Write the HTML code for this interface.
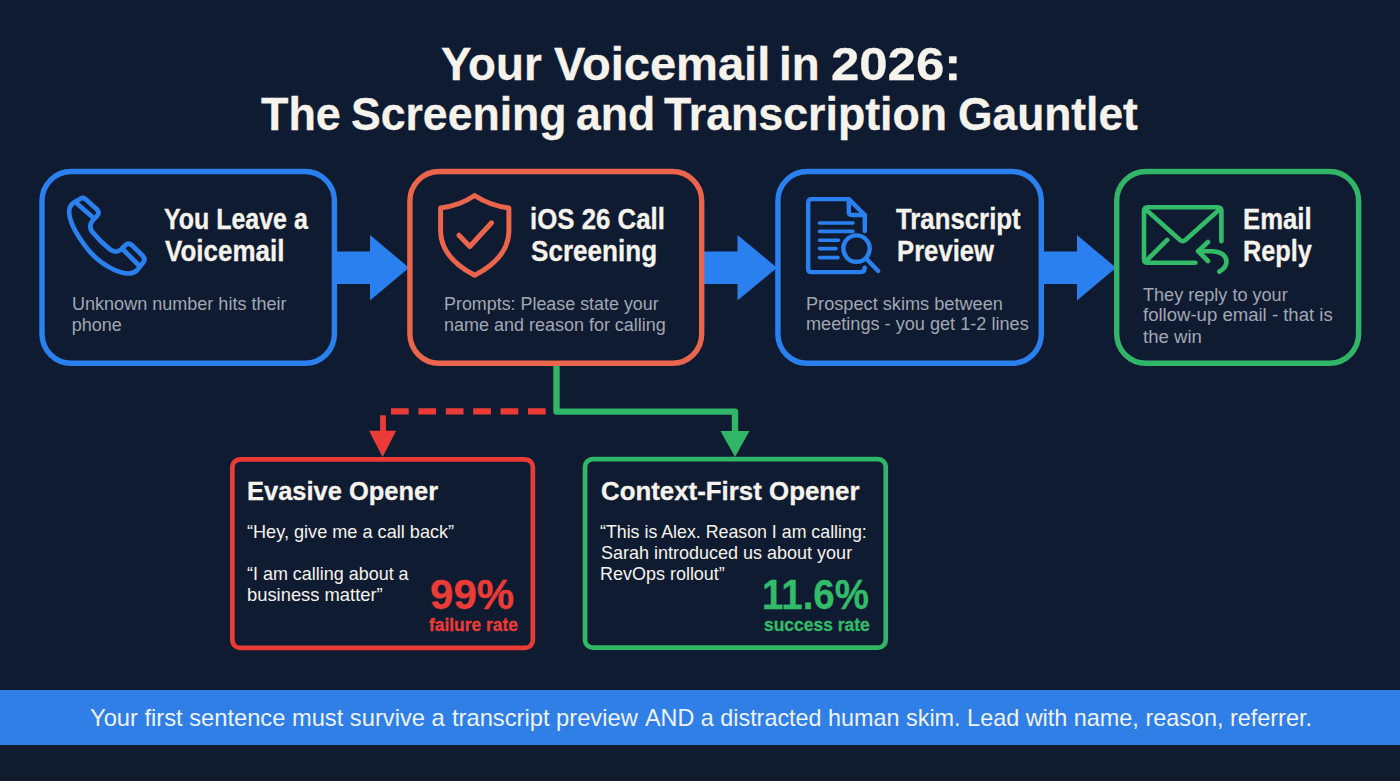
<!DOCTYPE html>
<html><head><meta charset="utf-8"><title>Your Voicemail in 2026</title>
<style>
html,body{margin:0;padding:0;}
body{width:1400px;height:781px;overflow:hidden;background:#0f1b31;position:relative;font-family:"Liberation Sans",sans-serif;}
svg{position:absolute;left:0;top:0;}
.t{position:absolute;white-space:nowrap;line-height:1;transform-origin:0 50%;font-family:"Liberation Sans",sans-serif;}
</style></head>
<body>
<svg width="1400" height="781" viewBox="0 0 1400 781">
<path d="M335,251.5 L370,251.5 L370,235 L409,267.7 L370,300.5 L370,284 L335,284 Z" fill="#2a80ef"/>
<path d="M702,251.5 L737.5,251.5 L737.5,235 L777,267.7 L737.5,300.5 L737.5,284 L702,284 Z" fill="#2a80ef"/>
<path d="M1041,251.5 L1077,251.5 L1077,235 L1116,267.7 L1077,300.5 L1077,284 L1041,284 Z" fill="#2a80ef"/>
<path d="M556.5,364 L556.5,411.6 L735,411.6 L735,433" fill="none" stroke="#31b567" stroke-width="6.4" stroke-linejoin="round"/>
<path d="M720.5,431 L749.5,431 L735,457 Z" fill="#31b567"/>
<path d="M391,411.4 L547,411.4" fill="none" stroke="#ea3b37" stroke-width="6.4" stroke-dasharray="17.7 9.7"/>
<path d="M383,415.3 L383,433" fill="none" stroke="#ea3b37" stroke-width="5.8"/>
<path d="M369,430.7 L396.2,430.7 L382.6,457 Z" fill="#ea3b37"/>
<rect x="42.0" y="171.5" width="292.40000000000003" height="191.79999999999998" rx="29.3" ry="29.3" fill="none" stroke="#2a80ef" stroke-width="5.4"/>
<rect x="409.9" y="171.5" width="291.8" height="191.79999999999998" rx="29.3" ry="29.3" fill="none" stroke="#ea654b" stroke-width="5.4"/>
<rect x="777.9000000000001" y="171.5" width="263.4" height="191.79999999999998" rx="29.3" ry="29.3" fill="none" stroke="#2a80ef" stroke-width="5.4"/>
<rect x="1116.7" y="171.5" width="241.89999999999995" height="191.79999999999998" rx="29.3" ry="29.3" fill="none" stroke="#31b567" stroke-width="5.4"/>
<rect x="232.35" y="459.35" width="300.50000000000006" height="188.50000000000006" rx="7.65" ry="7.65" fill="none" stroke="#ea3b37" stroke-width="4.7"/>
<rect x="585.0500000000001" y="459.05" width="300.7" height="188.60000000000002" rx="7.65" ry="7.65" fill="none" stroke="#31b567" stroke-width="4.7"/>
<rect x="0" y="745" width="1400" height="36" fill="#111b2e"/>
<rect x="0" y="690" width="1400" height="55" fill="#2f7fe6"/>
<g fill="none" stroke="#2a80ef" stroke-width="4.7" stroke-linecap="round" stroke-linejoin="round">
<path d="M79.5,199.3 Q82.8,196.6 86,199.5 L96.8,209.2 Q100,212.3 97.3,215.6 L93.5,219.5 Q88,225.5 92,231.5 Q100,241.5 110,249.3 Q116,253.8 121,249.5 L125,245.5 Q128.5,242.2 132,245.3 L142.7,255.8 Q146,259.2 143,262.8 L138.5,268.5 Q134.5,273.8 128,273.5 C118,273 100,264.5 88,249.5 C78,237 70.5,224 69.2,213.5 C68.3,206 72.5,202.5 79.5,199.3 Z"/>
<path d="M77.5,204 L93,217.5 M122.5,249 L138,264.5"/>
</g>
<g fill="none" stroke="#ea654b" stroke-width="5.0" stroke-linecap="round" stroke-linejoin="round">
<path d="M474.7,195.5 Q460,205.5 440.6,208 L440.6,232 Q441.5,258 474.7,275.3 Q508,258 508.9,232 L508.9,208 Q489.5,205.5 474.7,195.5 Z"/>
<path d="M458.9,235.2 L469.8,246.5 L491.6,222.8"/>
</g>
<g fill="none" stroke="#2a80ef" stroke-width="4.4" stroke-linecap="round" stroke-linejoin="round">
<path d="M864.8,231 L864.8,215 L848.8,199.1 L811.5,199.1 Q808.2,199.1 808.2,202.4 L808.2,268.8 Q808.2,272.1 811.5,272.1 L860.5,272.1 Q864.8,272.1 864.8,267.6"/>
<path d="M848.8,199.1 L848.8,212 Q848.8,215 851.8,215 L864.8,215"/>
<path d="M819.5,223 L853,223 M819.5,231.4 L853,231.4 M819.5,240.3 L838.5,240.3 M819.5,248.6 L836,248.6 M819.5,257.6 L838,257.6" stroke-width="3.6"/>
<circle cx="856.5" cy="248.6" r="13.2"/>
<path d="M866.5,259 L878.2,271"/>
</g>
<g fill="none" stroke="#32bc6a" stroke-width="4.6" stroke-linecap="round" stroke-linejoin="round">
<path d="M1221.4,241.3 L1221.4,211 Q1221.4,207.3 1217.7,207.3 L1147.7,207.3 Q1144,207.3 1144,211 L1144,259 Q1144,262.7 1147.7,262.7 L1195.4,262.7"/>
<path d="M1146,209.6 L1180,240 Q1182.7,242.3 1185.4,240 L1219.3,209.6"/>
<path d="M1147.5,259.6 L1167.2,239.9"/>
<path d="M1208,242 L1198.2,251.2 L1208,261"/>
<path d="M1198.2,251.2 L1213,251.2 Q1226.5,252.5 1226.5,262 Q1226,268 1219.3,271.6"/>
</g>
</svg>
<span class="t" style="left:441.01px;top:41.06px;font-size:46px;font-weight:700;color:#f6f3ec;transform:scaleX(0.9930);-webkit-text-stroke:0.3px;">Your</span>
<span class="t" style="left:553.68px;top:41.06px;font-size:46px;font-weight:700;color:#f6f3ec;transform:scaleX(1.0232);-webkit-text-stroke:0.3px;">Voicemail</span>
<span class="t" style="left:779.33px;top:41.06px;font-size:46px;font-weight:700;color:#f6f3ec;transform:scaleX(0.9914);-webkit-text-stroke:0.3px;">in</span>
<span class="t" style="left:831.19px;top:41.06px;font-size:46px;font-weight:700;color:#f6f3ec;transform:scaleX(1.1063);-webkit-text-stroke:0.3px;">2026:</span>
<span class="t" style="left:261.02px;top:91.06px;font-size:46px;font-weight:700;color:#f6f3ec;transform:scaleX(0.9759);-webkit-text-stroke:0.3px;">The</span>
<span class="t" style="left:350.86px;top:91.06px;font-size:46px;font-weight:700;color:#f6f3ec;transform:scaleX(0.9691);-webkit-text-stroke:0.3px;">Screening</span>
<span class="t" style="left:575.73px;top:91.06px;font-size:46px;font-weight:700;color:#f6f3ec;transform:scaleX(0.9679);-webkit-text-stroke:0.3px;">and</span>
<span class="t" style="left:664.43px;top:91.06px;font-size:46px;font-weight:700;color:#f6f3ec;transform:scaleX(0.9715);-webkit-text-stroke:0.3px;">Transcription</span>
<span class="t" style="left:958.37px;top:91.06px;font-size:46px;font-weight:700;color:#f6f3ec;transform:scaleX(0.9641);-webkit-text-stroke:0.3px;">Gauntlet</span>
<span class="t" style="left:163.73px;top:205.09px;font-size:28.6px;font-weight:700;color:#f6f3ec;transform:scaleX(0.8726);-webkit-text-stroke:0.3px;">You Leave a</span>
<span class="t" style="left:164.60px;top:236.99px;font-size:28.6px;font-weight:700;color:#f6f3ec;transform:scaleX(0.9085);-webkit-text-stroke:0.3px;">Voicemail</span>
<span class="t" style="left:72.00px;top:294.76px;font-size:18px;font-weight:400;color:#a2a7b3;transform:scaleX(1.0019);">Unknown number hits their</span>
<span class="t" style="left:71.70px;top:315.56px;font-size:18px;font-weight:400;color:#a2a7b3;transform:scaleX(1.0000);">phone</span>
<span class="t" style="left:529.99px;top:205.09px;font-size:28.6px;font-weight:700;color:#f6f3ec;transform:scaleX(0.9034);-webkit-text-stroke:0.3px;">iOS 26 Call</span>
<span class="t" style="left:530.89px;top:236.99px;font-size:28.6px;font-weight:700;color:#f6f3ec;transform:scaleX(0.9119);-webkit-text-stroke:0.3px;">Screening</span>
<span class="t" style="left:443.61px;top:294.76px;font-size:18px;font-weight:400;color:#a2a7b3;transform:scaleX(0.9935);">Prompts: Please state your</span>
<span class="t" style="left:443.90px;top:315.56px;font-size:18px;font-weight:400;color:#a2a7b3;transform:scaleX(0.9986);">name and reason for calling</span>
<span class="t" style="left:896.30px;top:205.09px;font-size:28.6px;font-weight:700;color:#f6f3ec;transform:scaleX(0.9014);-webkit-text-stroke:0.3px;">Transcript</span>
<span class="t" style="left:896.50px;top:236.99px;font-size:28.6px;font-weight:700;color:#f6f3ec;transform:scaleX(0.8981);-webkit-text-stroke:0.3px;">Preview</span>
<span class="t" style="left:805.58px;top:294.76px;font-size:18px;font-weight:400;color:#a2a7b3;transform:scaleX(1.0094);">Prospect skims between</span>
<span class="t" style="left:805.99px;top:315.36px;font-size:18px;font-weight:400;color:#a2a7b3;transform:scaleX(1.0073);">meetings - you get 1-2 lines</span>
<span class="t" style="left:1242.50px;top:205.09px;font-size:28.6px;font-weight:700;color:#f6f3ec;transform:scaleX(0.9000);-webkit-text-stroke:0.3px;">Email</span>
<span class="t" style="left:1242.53px;top:236.99px;font-size:28.6px;font-weight:700;color:#f6f3ec;transform:scaleX(0.8842);-webkit-text-stroke:0.3px;">Reply</span>
<span class="t" style="left:1143.40px;top:285.56px;font-size:18px;font-weight:400;color:#a2a7b3;transform:scaleX(1.0042);">They reply to your</span>
<span class="t" style="left:1143.40px;top:306.46px;font-size:18px;font-weight:400;color:#a2a7b3;transform:scaleX(1.0306);">follow-up email - that is</span>
<span class="t" style="left:1143.40px;top:327.76px;font-size:18px;font-weight:400;color:#a2a7b3;transform:scaleX(1.0321);">the win</span>
<span class="t" style="left:247.04px;top:477.99px;font-size:26px;font-weight:700;color:#f6f3ec;transform:scaleX(0.9793);-webkit-text-stroke:0.3px;">Evasive Opener</span>
<span class="t" style="left:247.02px;top:522.64px;font-size:18.5px;font-weight:400;color:#f6f3ec;transform:scaleX(0.9795);">“Hey, give me a call back”</span>
<span class="t" style="left:247.43px;top:565.34px;font-size:18.5px;font-weight:400;color:#f6f3ec;transform:scaleX(0.9699);">“I am calling about a</span>
<span class="t" style="left:247.41px;top:585.64px;font-size:18.5px;font-weight:400;color:#f6f3ec;transform:scaleX(0.9926);">business matter”</span>
<span class="t" style="left:430.22px;top:574.32px;font-size:42.5px;font-weight:700;color:#ea3b37;transform:scaleX(0.9890);-webkit-text-stroke:0.3px;">99%</span>
<span class="t" style="left:429.40px;top:615.96px;font-size:18px;font-weight:700;color:#ea3b37;transform:scaleX(0.9659);-webkit-text-stroke:0.3px;">failure rate</span>
<span class="t" style="left:601.11px;top:477.99px;font-size:26px;font-weight:700;color:#f6f3ec;transform:scaleX(0.9942);-webkit-text-stroke:0.3px;">Context-First Opener</span>
<span class="t" style="left:600.34px;top:522.64px;font-size:18.5px;font-weight:400;color:#f6f3ec;transform:scaleX(0.9607);">“This is Alex. Reason I am calling:</span>
<span class="t" style="left:600.53px;top:543.74px;font-size:18.5px;font-weight:400;color:#f6f3ec;transform:scaleX(0.9728);">Sarah introduced us about your</span>
<span class="t" style="left:599.56px;top:565.04px;font-size:18.5px;font-weight:400;color:#f6f3ec;transform:scaleX(0.9714);">RevOps rollout”</span>
<span class="t" style="left:761.89px;top:574.32px;font-size:42.5px;font-weight:700;color:#32bc6a;transform:scaleX(0.9044);-webkit-text-stroke:0.3px;">11.6%</span>
<span class="t" style="left:763.63px;top:615.96px;font-size:18px;font-weight:700;color:#32bc6a;transform:scaleX(0.9692);-webkit-text-stroke:0.3px;">success rate</span>
<span class="t" style="left:89.91px;top:705.68px;font-size:24px;font-weight:400;color:#eef3fb;transform:scaleX(0.9872);">Your first sentence must survive a</span>
<span class="t" style="left:451.50px;top:705.68px;font-size:24px;font-weight:400;color:#eef3fb;transform:scaleX(0.9878);">transcript preview</span>
<span class="t" style="left:645.40px;top:705.68px;font-size:24px;font-weight:400;color:#eef3fb;transform:scaleX(0.9731);">AND a distracted human</span>
<span class="t" style="left:905.72px;top:705.68px;font-size:24px;font-weight:400;color:#eef3fb;transform:scaleX(0.9753);">skim. Lead with name, reason, referrer.</span>
</body></html>
